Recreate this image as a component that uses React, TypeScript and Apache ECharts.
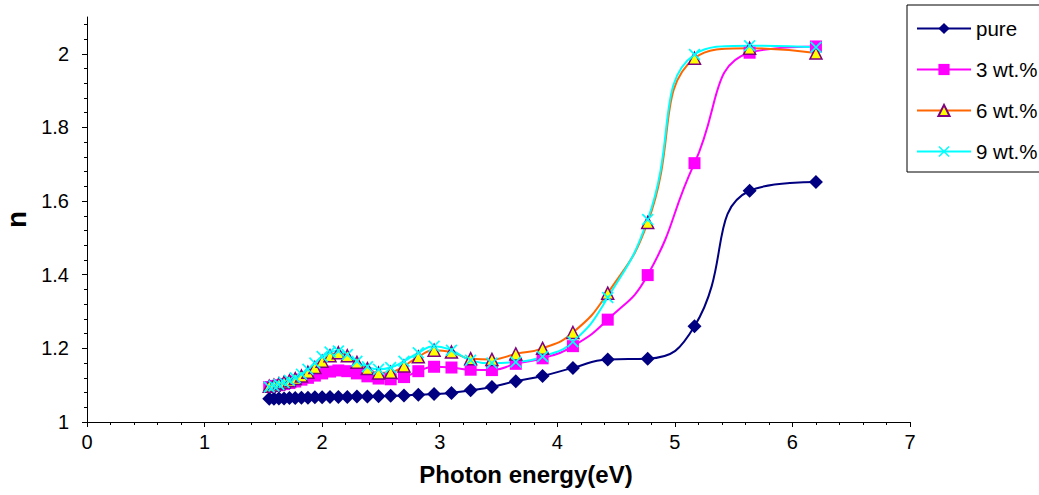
import React, { useEffect, useRef } from "react";
import * as echarts from "echarts";

// Photon energy (eV) of each measured point
const energy = [
  1.55, 1.59, 1.632, 1.676, 1.722, 1.771, 1.824, 1.879, 1.938, 2.0, 2.067,
  2.138, 2.214, 2.296, 2.385, 2.48, 2.583, 2.696, 2.818, 2.952, 3.1, 3.263,
  3.444, 3.647, 3.875, 4.133, 4.429, 4.769, 5.167, 5.636, 6.2,
];

const pure = [
  1.063, 1.063, 1.064, 1.064, 1.065, 1.065, 1.066, 1.066, 1.067, 1.067, 1.068,
  1.068, 1.068, 1.069, 1.069, 1.07, 1.071, 1.072, 1.074, 1.076, 1.079, 1.086,
  1.095, 1.111, 1.125, 1.147, 1.17, 1.172, 1.26, 1.628, 1.652,
];

const wt3 = [
  1.095, 1.098, 1.1, 1.103, 1.106, 1.11, 1.115, 1.12, 1.126, 1.132, 1.137,
  1.14, 1.138, 1.132, 1.124, 1.118, 1.116, 1.122, 1.138, 1.15, 1.148, 1.142,
  1.141, 1.158, 1.173, 1.206, 1.278, 1.399, 1.703, 2.003, 2.02,
];

const wt6 = [
  1.097, 1.1, 1.104, 1.108, 1.112, 1.118, 1.125, 1.135, 1.148, 1.165, 1.18,
  1.188, 1.18, 1.162, 1.145, 1.133, 1.135, 1.152, 1.177, 1.195, 1.19, 1.172,
  1.17, 1.185, 1.2, 1.243, 1.35, 1.542, 1.988, 2.015, 2.002,
];

const wt9 = [
  1.095, 1.098, 1.102, 1.107, 1.113, 1.12, 1.13, 1.143, 1.16, 1.178, 1.19,
  1.193, 1.183, 1.165, 1.15, 1.143, 1.148, 1.165, 1.188, 1.206, 1.195, 1.168,
  1.16, 1.163, 1.178, 1.218, 1.338, 1.55, 1.998, 2.022, 2.018,
];

const seriesNames = ["pure", "3 wt.%", "6 wt.%", "9 wt.%"];
const yMajorTicks = [1, 1.2, 1.4, 1.6, 1.8, 2];
const xMax = 7;
const yMin = 1;
const yMax = 2.1;

const FONT = "'Liberation Sans', Arial, sans-serif";
const crossPath =
  "path://M0,1 L1,0 L5,4 L9,0 L10,1 L6,5 L10,9 L9,10 L5,6 L1,10 L0,9 L4,5 Z";

function pairs(ys: number[]) {
  return energy.map((x, i) => [x, ys[i]]);
}

export default function App() {
  const ref = useRef<HTMLDivElement>(null);

  useEffect(() => {
    if (!ref.current) return;
    const chart = echarts.init(ref.current, null, { renderer: "svg" });

    const yMinor: number[] = [];
    for (let i = 1; i * 0.04 + yMin < yMax - 1e-9; i++) {
      yMinor.push(Math.round((yMin + i * 0.04) * 1000) / 1000);
    }

    const axisText = { color: "#000", fontSize: 20, fontFamily: FONT };

    chart.setOption({
      animation: false,
      backgroundColor: "#fff",
      grid: {
        left: 87,
        right: 129,
        top: 17,
        bottom: 73,
        containLabel: false,
        outerBoundsMode: "none",
      },
      legend: {
        orient: "vertical",
        left: 907,
        top: 5,
        padding: [13, 2, 10, 9],
        itemWidth: 54,
        itemHeight: 14,
        itemGap: 20,
        borderColor: "#000",
        borderWidth: 1,
        textStyle: { color: "#000", fontSize: 20.5, lineHeight: 21, fontFamily: FONT },
        data: seriesNames,
      },
      xAxis: {
        type: "value",
        min: 0,
        max: xMax,
        interval: 1,
        name: "Photon energy(eV)",
        nameLocation: "middle",
        nameGap: 40,
        nameTextStyle: {
          color: "#000",
          fontSize: 24,
          fontWeight: "bold",
          fontFamily: FONT,
          padding: [0, 0, 0, 55],
        },
        axisLine: { lineStyle: { color: "#000", width: 1 } },
        axisTick: { show: true, length: 5, lineStyle: { color: "#000" } },
        minorTick: { show: true, splitNumber: 5, length: 3, lineStyle: { color: "#000" } },
        axisLabel: { ...axisText, margin: 10 },
        splitLine: { show: false },
      },
      yAxis: [
        {
          type: "value",
          min: yMin,
          max: yMax,
          interval: 0.2,
          name: "n",
          nameLocation: "middle",
          nameGap: 52,
          nameRotate: 90,
          nameTextStyle: {
            color: "#000",
            fontSize: 28,
            fontWeight: "bold",
            fontFamily: FONT,
          },
          axisLine: { show: true, lineStyle: { color: "#000", width: 1 } },
          axisTick: {
            show: true,
            length: 5,
            customValues: yMajorTicks,
            lineStyle: { color: "#000" },
          },
          axisLabel: {
            ...axisText,
            margin: 18,
            customValues: yMajorTicks,
            formatter: (v: number) => String(Math.round(v * 10) / 10),
          },
          splitLine: { show: false },
        },
        {
          type: "value",
          min: yMin,
          max: yMax,
          position: "left",
          interval: 0.04,
          axisLine: { show: false },
          axisTick: {
            show: true,
            length: 3,
            customValues: yMinor,
            lineStyle: { color: "#000" },
          },
          axisLabel: { show: false },
          splitLine: { show: false },
        },
      ],
      series: [
        {
          name: seriesNames[0],
          type: "line",
          smooth: 0.5,
          data: pairs(pure),
          symbol: "diamond",
          symbolSize: 14,
          lineStyle: { color: "#000080", width: 2 },
          itemStyle: { color: "#000080" },
        },
        {
          name: seriesNames[1],
          type: "line",
          smooth: 0.5,
          data: pairs(wt3),
          symbol: "rect",
          symbolSize: 12,
          lineStyle: { color: "#FF00FF", width: 2 },
          itemStyle: { color: "#FF00FF" },
        },
        {
          name: seriesNames[2],
          type: "line",
          smooth: 0.5,
          data: pairs(wt6),
          symbol: "triangle",
          symbolSize: 12,
          lineStyle: { color: "#FF6600", width: 2 },
          itemStyle: { color: "#FFFF00", borderColor: "#800080", borderWidth: 1.5 },
        },
        {
          name: seriesNames[3],
          type: "line",
          smooth: 0.5,
          data: pairs(wt9),
          symbol: crossPath,
          symbolSize: 12,
          lineStyle: { color: "#00FFFF", width: 2 },
          itemStyle: { color: "#00FFFF" },
        },
      ],
    });

    return () => chart.dispose();
  }, []);

  return (
    <div
      ref={ref}
      style={{ position: "absolute", left: 0, top: 0, width: 1039, height: 495 }}
    />
  );
}
